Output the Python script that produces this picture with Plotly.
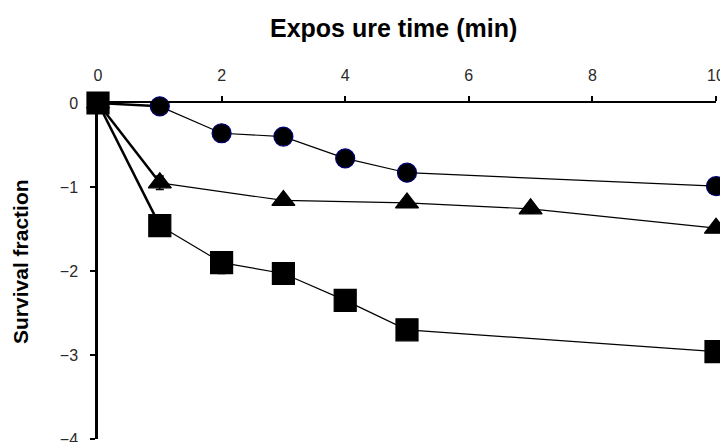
import plotly.graph_objects as go

time_circle = [0, 1, 2, 3, 4, 5, 10]
surv_circle = [0, -0.04, -0.36, -0.40, -0.66, -0.83, -0.99]
err_circle = [0, 0.02, 0.03, 0.03, 0.03, 0.03, 0.03]

time_tri = [0, 1, 3, 5, 7, 10]
surv_tri = [0, -0.95, -1.16, -1.19, -1.26, -1.49]
err_tri = [0, 0.08, 0.05, 0.05, 0.05, 0.04]

time_sq = [0, 1, 2, 3, 4, 5, 10]
surv_sq = [0, -1.46, -1.90, -2.03, -2.35, -2.70, -2.96]
err_sq = [0, 0.03, 0.13, 0.03, 0.03, 0.03, 0.03]

x_ticks = [0, 2, 4, 6, 8, 10]
y_ticks = [0, -1, -2, -3, -4]

fig = go.Figure()

series = [
    (time_sq, surv_sq, err_sq, "square", 22, "black"),
    (time_tri, surv_tri, err_tri, "triangle-up", 20, "black"),
    (time_circle, surv_circle, err_circle, "circle", 19, "#000070"),
]

# thick first segments from origin
for xs, ys, es, sym, sz, lc in series:
    fig.add_trace(go.Scatter(x=xs[:2], y=ys[:2], mode="lines",
                             line=dict(color="black", width=2.5),
                             showlegend=False, hoverinfo="skip", cliponaxis=False))

for xs, ys, es, sym, sz, lc in series:
    fig.add_trace(go.Scatter(x=xs[1:], y=ys[1:], mode="lines",
                             line=dict(color="black", width=1.2),
                             showlegend=False, cliponaxis=False))

for xs, ys, es, sym, sz, lc in reversed(series):
    fig.add_trace(go.Scatter(
        x=xs, y=ys, mode="markers",
        marker=dict(symbol=sym, size=sz, color="black", line=dict(color=lc, width=1.2)),
        error_y=dict(type="data", array=es, visible=True, color="black", thickness=1.5, width=4),
        showlegend=False, cliponaxis=False))

axis_font = dict(family="Arial, Liberation Sans, sans-serif", size=16, color="#2a2a2a")
title_font = dict(family="Arial, Liberation Sans, sans-serif", size=25, color="black")

fig.update_layout(
    width=728, height=442,
    margin=dict(l=90, r=20, t=95, b=11),
    paper_bgcolor="white", plot_bgcolor="white",
    xaxis=dict(range=[0, 10], side="top", tickvals=x_ticks, automargin=False,
               showline=True, linecolor="black", linewidth=2,
               ticks="outside", ticklen=5, tickwidth=2, tickcolor="black",
               ticklabelstandoff=9,
               showgrid=False, zeroline=False, tickfont=axis_font),
    yaxis=dict(range=[-4, 0], tickvals=y_ticks, automargin=False,
               showline=True, linecolor="black", linewidth=2.5,
               ticks="outside", ticklen=5, tickwidth=2, tickcolor="black",
               ticklabelstandoff=9,
               showgrid=False, zeroline=False, tickfont=axis_font),
    annotations=[
        dict(text="<b>Expos ure time (min)</b>", xref="paper", yref="paper",
             x=0.5, y=1, xshift=-14, yshift=75, xanchor="center", yanchor="middle",
             showarrow=False, font=title_font),
        dict(text="<b>Survival fraction</b>", xref="paper", yref="paper",
             x=0, y=0.5, xshift=-78, yshift=9, textangle=-90,
             xanchor="center", yanchor="middle",
             showarrow=False, font=dict(family="Arial, Liberation Sans, sans-serif", size=21, color="black")),
    ],
)

fig.write_html("out.html")
